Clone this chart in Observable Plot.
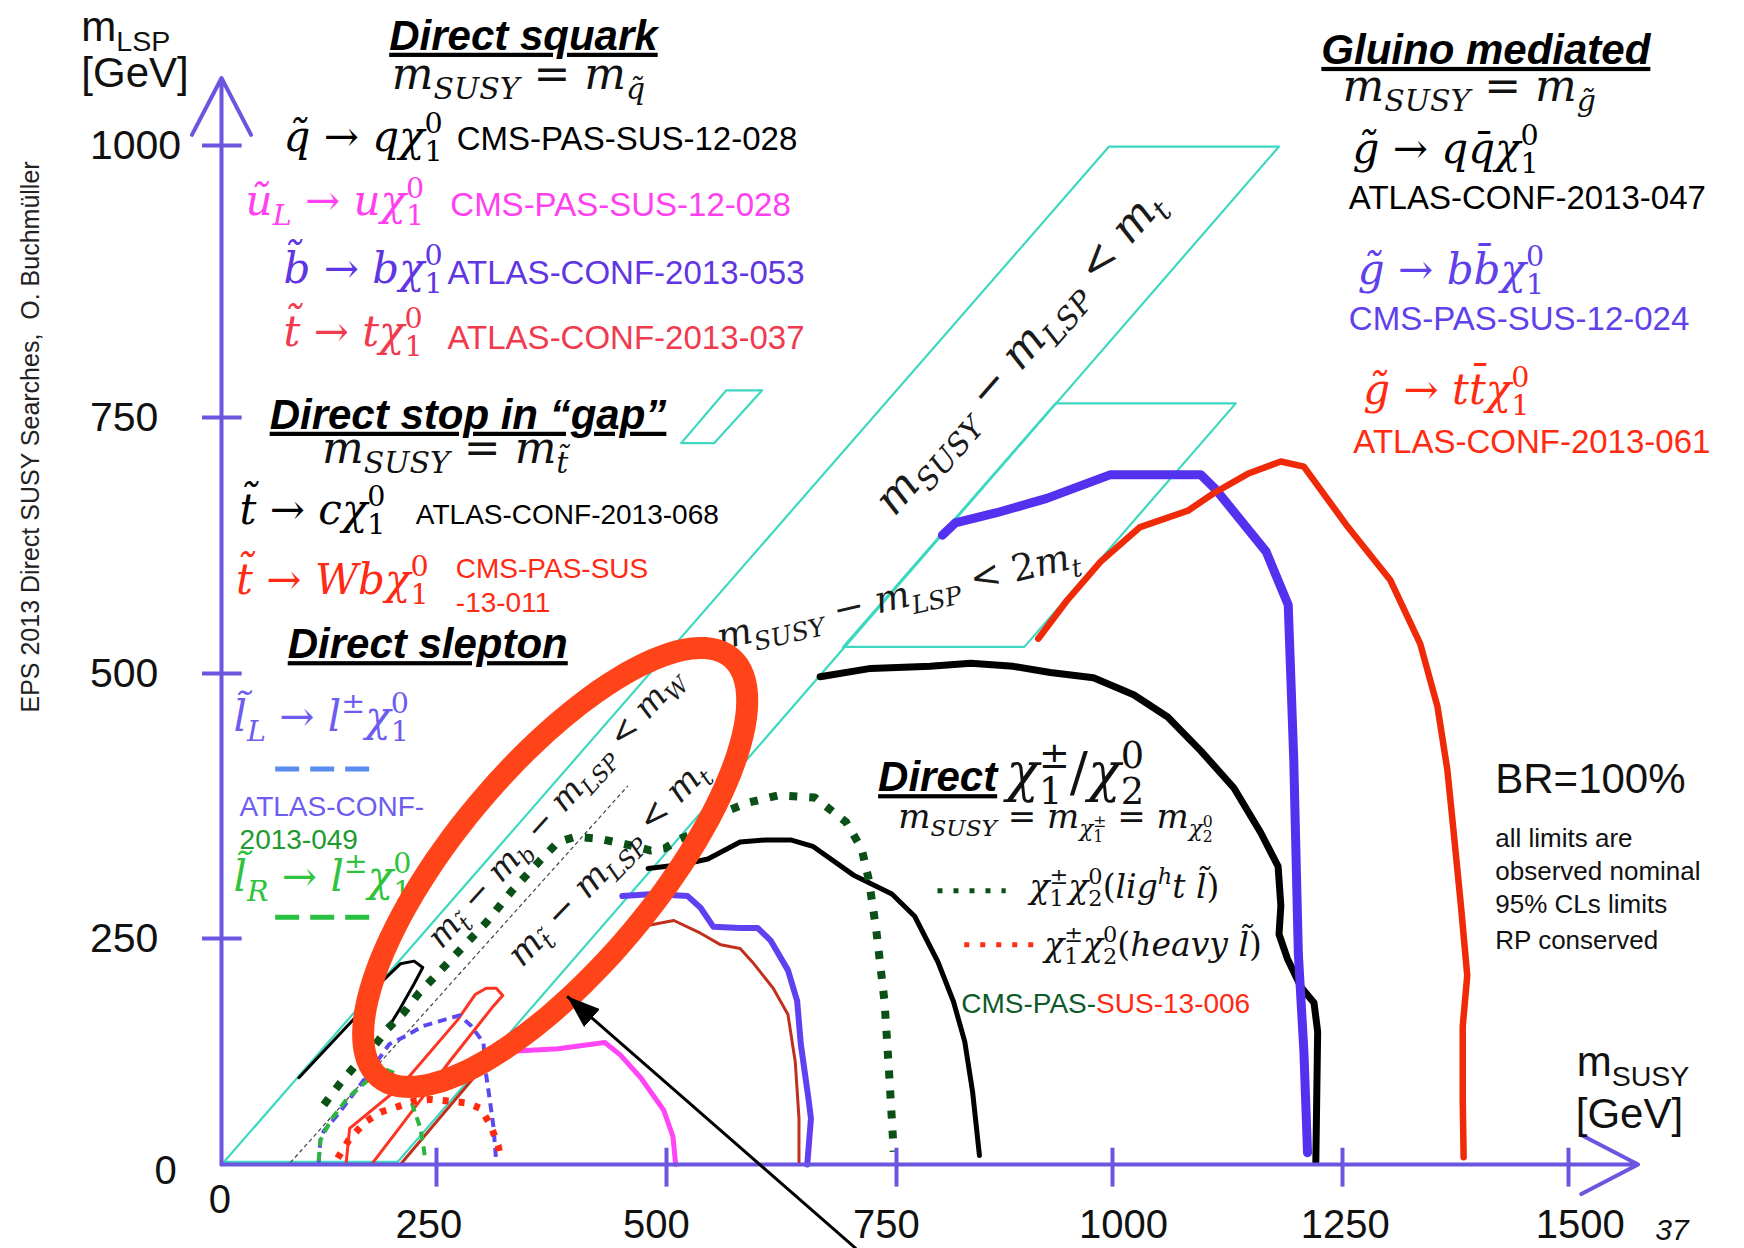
<!DOCTYPE html>
<html><head><meta charset="utf-8">
<script src="https://cdn.jsdelivr.net/npm/d3@7"></script>
<script src="https://cdn.jsdelivr.net/npm/@observablehq/plot@0.6"></script>
<style>html,body{margin:0;padding:0;background:#fff;} #chart svg{display:block;} #log{position:absolute;left:300px;top:300px;font-size:22px;color:#c00;white-space:pre-wrap;}</style>
</head><body><div id="chart"></div><div id="log"></div>
<script>
const log = m => document.getElementById("log").textContent += m + "\n";
window.onerror = (m, s, l, c) => log("ERR " + m + " @" + l + ":" + c);
// ================= DATA (x = m_SUSY [GeV], y = m_LSP [GeV]) =================
const xTicks = [250, 500, 750, 1000, 1250, 1500];
const yTicks = [250, 500, 750, 1000];
const xTickLabels = [
  {label: "250", x: 241}, {label: "500", x: 489}, {label: "750", x: 739},
  {label: "1000", x: 1012}, {label: "1250", x: 1253}, {label: "1500", x: 1513}
];
const zeroLabels = [{label: "0", x: -2, y: -39}, {label: "0", x: -65, y: -7}];

// Gluino mediated
const gluinoBB = [[803,635],[818,647],[866,657],[924,671],[997,694],[1096,694],[1112,680],[1167,619],[1191,567],[1197,419],[1202,233],[1208,126],[1212,13]];
const gluinoTT = [[914,534],[948,572],[986,609],[1030,643],[1082,659],[1110,676],[1147,695],[1183,707],[1208,702],[1256,643],[1303,591],[1336,529],[1355,469],[1366,409],[1373,350],[1381,281],[1388,209],[1383,153],[1383,72],[1384,8]];
// Direct squark
const squarkQQ = [[667,497],[722,505],[789,507],[836,510],[885,507],[928,501],[978,496],[1023,480],[1060,459],[1096,427],[1132,392],[1161,350],[1180,318],[1183,281],[1181,254],[1190,228],[1205,196],[1219,179],[1223,147],[1221,3]];
const sbottom = [[452,290],[486,292],[523,290],[537,279],[551,261],[580,260],[599,260],[613,248],[632,215],[642,181],[646,133],[654,75],[657,51],[653,0]];
const stopTLow = [[208,0],[298,105]];
const stopT = [[462,262],[472,261],[508,267],[537,255],[559,243],[580,239],[595,222],[616,195],[632,166],[640,113],[644,51],[644,0]];
const squarkUL = [[327,125],[382,128],[433,135],[450,121],[472,96],[497,60],[507,31],[510,0]];
// Direct stop in the gap
const stopCharm = [[90,96],[155,162],[184,200],[208,222],[224,225],[234,218],[224,200],[208,173],[195,153]];
const stopWb = [[145,2],[149,40],[208,86],[273,160],[292,188],[304,195],[315,195],[322,187],[310,173],[265,115],[208,42],[176,2]];
// Direct slepton
const sleptonL = [[113,2],[115,27],[119,37],[135,55],[166,94],[195,133],[214,142],[234,153],[275,165],[287,154],[301,135],[304,99],[308,71],[312,41],[315,2]];
const sleptonR = [[113,4],[115,27],[127,49],[147,74],[170,93],[188,106],[202,101],[216,85],[223,63],[231,41],[235,19],[237,4]];
// Direct chargino / neutralino
const ewkWZ = [[480,316],[519,320],[545,325],[580,341],[608,343],[635,343],[659,337],[703,310],[745,292],[771,271],[798,224],[816,180],[829,136],[838,81],[846,10]];
const ewkLight = [[119,66],[138,90],[156,110],[176,129],[193,150],[212,168],[229,189],[247,207],[265,226],[304,265],[332,295],[362,323],[382,341],[401,346],[428,344],[460,338],[483,333],[498,335],[515,344],[537,352],[553,366],[588,378],[621,385],[661,383],[695,360],[712,335],[720,305],[728,258],[737,180],[742,101],[747,14]];
const ewkHeavy = [[135,7],[148,27],[167,47],[185,58],[205,64],[223,70],[243,72],[265,70],[284,68],[298,62],[309,43],[317,21],[320,7]];

// Kinematic bands and the m_W + m_b line
const bandMt = [[3,3],[996,999],[1181,999],[205,3],[3,3]];
const band2Mt = [[692,526],[934,763],[1134,763],[898,526],[692,526]];
const gapSymbol = [[516,725],[565,775],[604,775],[552,725],[516,725]];
const lineMW = [[80,2],[458,394]];

// Axis extents, legend samples, annotation anchors
const axisLines = [{x1: 0, y1: 0, x2: 0, y2: 1062}, {x1: 0, y1: 0, x2: 1577, y2: 0}];
const legendDashes = [{id: "slepL", x1: 63, x2: 174, y: 410}, {id: "slepR", x1: 63, x2: 174, y: 270}];
const legendDots = [{id: "light", x1: 798, x2: 877, y: 295}, {id: "heavy", x1: 829, x2: 909, y: 243}];
const pointer = [{x1: 706, y1: -93, x2: 392, y2: 186}];
const highlight = [{x: 379, y: 317}];

const sectionTitles = [
  {text: "Direct squark", x: 195, y: 1088},
  {text: "Direct stop in \u201cgap\u201d", x: 56, y: 739},
  {text: "Direct slepton", x: 77, y: 515},
  {text: "Gluino mediated", x: 1227, y: 1075},
  {text: "Direct", x: 730, y: 389}
];
const massRelations = [
  {tex: "m_{SUSY} = m_{q\u0303}", x: 198, y: 1052},
  {tex: "m_{SUSY} = m_{t\u0303}", x: 117, y: 706},
  {tex: "m_{SUSY} = m_{g\u0303}", x: 1250, y: 1041}
];
const decayLabels = [
  {id: "squark",  tex: "q\u0303 \u2192 q\u03c7^{0}_{1}", x: 72, y: 995},
  {id: "sup",     tex: "u\u0303_{L} \u2192 u\u03c7^{0}_{1}", x: 28, y: 936},
  {id: "sbottom", tex: "b\u0303 \u2192 b\u03c7^{0}_{1}", x: 72, y: 874},
  {id: "stop",    tex: "t\u0303 \u2192 t\u03c7^{0}_{1}", x: 72, y: 816},
  {id: "stopc",   tex: "t\u0303 \u2192 c\u03c7^{0}_{1}", x: 21, y: 646},
  {id: "stopWb",  tex: "t\u0303 \u2192 Wb\u03c7^{0}_{1}", x: 17, y: 578},
  {id: "slepL",   tex: "l\u0303_{L} \u2192 l^{\u00b1}\u03c7^{0}_{1}", x: 14, y: 446},
  {id: "slepR",   tex: "l\u0303_{R} \u2192 l^{\u00b1}\u03c7^{0}_{1}", x: 14, y: 295},
  {id: "gqq",     tex: "g\u0303 \u2192 qq\u0304\u03c7^{0}_{1}", x: 1261, y: 984},
  {id: "gbb",     tex: "g\u0303 \u2192 bb\u0304\u03c7^{0}_{1}", x: 1267, y: 873},
  {id: "gtt",     tex: "g\u0303 \u2192 tt\u0304\u03c7^{0}_{1}", x: 1273, y: 762}
];
const refsLarge = [
  {id: "squark",  text: "CMS-PAS-SUS-12-028", x: 272, y: 996},
  {id: "sup",     text: "CMS-PAS-SUS-12-028", x: 265, y: 935},
  {id: "sbottom", text: "ATLAS-CONF-2013-053", x: 262, y: 873},
  {id: "stop",    text: "ATLAS-CONF-2013-037", x: 262, y: 813},
  {id: "gqq",     text: "ATLAS-CONF-2013-047", x: 1257, y: 942},
  {id: "gbb",     text: "CMS-PAS-SUS-12-024", x: 1257, y: 830},
  {id: "gtt",     text: "ATLAS-CONF-2013-061", x: 1262, y: 715}
];
const refsSmall = [
  {id: "stopc",   text: "ATLAS-CONF-2013-068", x: 226, y: 646},
  {id: "stopWb",  text: "CMS-PAS-SUS", x: 271, y: 593},
  {id: "stopWb",  text: "-13-011", x: 271, y: 560},
  {id: "slepL",   text: "ATLAS-CONF-", x: 21, y: 366},
  {id: "slepR2",  text: "2013-049", x: 21, y: 334},
  {id: "ewkR",    text: "SUS-13-006", x: 981, y: 168}
];
const refsEnd = [{id: "ewkG", text: "CMS-PAS-", x: 981, y: 168}];
const ewkTitle = [{tex: "\u03c7^{\u00b1}_{1}/\u03c7^{0}_{2}", x: 877, y: 389}];
const ewkRelation = [{tex: "m_{SUSY} = m_{\u03c7^{\u00b1}_{1}} = m_{\u03c7^{0}_{2}}", x: 752, y: 354}];
const ewkLegend = [
  {tex: "\u03c7^{\u00b1}_{1}\u03c7^{0}_{2}(lig^{h}t l\u0303)", x: 904, y: 288},
  {tex: "\u03c7^{\u00b1}_{1}\u03c7^{0}_{2}(heavy l\u0303)", x: 921, y: 231}
];
const bandLabels = [
  {tex: "m_{SUSY} \u2212 m_{LSP} < m_{t}", x: 892, y: 810, angle: -49, size: 44},
  {tex: "m_{SUSY} \u2212 m_{LSP} < 2m_{t}", x: 752, y: 575, angle: -13, size: 37},
  {tex: "m_{t\u0303} \u2212 m_{b} \u2212 m_{LSP} < m_{W}", x: 379, y: 373, angle: -48, size: 33},
  {tex: "m_{t\u0303} \u2212 m_{LSP} < m_{t}", x: 436, y: 321, angle: -46, size: 35}
];
const notes = [
  {text: "all limits are", y: 336}, {text: "observed nominal", y: 305},
  {text: "95% CLs limits", y: 274}, {text: "RP conserved", y: 238}
];
const brLabel = [{text: "BR=100%", x: 1419, y: 387}];
const axisTitles = [
  {tex: "m_{LSP}", x: -163, y: 1096}, {tex: "[GeV]", x: -163, y: 1054},
  {tex: "m_{SUSY}", x: 1509, y: 98}, {tex: "[GeV]", x: 1508, y: 40}
];
const pageNumber = [{text: "37", x: 1596, y: -84}];
const credit = [{text: "EPS 2013 Direct SUSY Searches,  O. Buchm\u00fcller", x: -221, y: 731}];

// ================= STYLES =================
const AXIS = "#6a56e0", BAND = "#3ed8c0";
const decayColor = {
  squark: "#000", sup: "#ff40f0", sbottom: "#5f36e2", stop: "#f03a4e", stopc: "#000",
  stopWb: "#ff2a14", slepL: "#6c5cf0", slepR: "#2fc23c", slepR2: "#1e9a2e",
  gqq: "#000", gbb: "#6040ea", gtt: "#ff2a10", ewkG: "#0e5a2a", ewkR: "#ff2a14"
};
const SANS = "Liberation Sans, Arial, Helvetica, sans-serif";
const SERIF = "DejaVu Serif, serif";

// the slide's hand-drawn axes are not evenly spaced: warp each axis piecewise between its ticks
const warpX = d3.scaleLinear().domain([0, 250, 500, 750, 1000, 1250, 1500]).range([0, 215, 445, 675, 891, 1121, 1347]);
const warpY = d3.scaleLinear().domain([0, 250, 500, 750, 1000]).range([0, 226, 491, 747, 1019]);

const P = d => d[0], Q = d => d[1];
const curve = (data, stroke, strokeWidth, extra = {}) =>
  Plot.line(data, {x: P, y: Q, stroke, strokeWidth, strokeLinejoin: "round", strokeLinecap: "round", ...extra});

let plot;
try {
plot = Plot.plot({
  width: 1744, height: 1248, margin: 0,
  x: {type: "linear", transform: warpX, domain: [0, 1347], range: [221, 1568], axis: null},
  y: {type: "linear", transform: warpY, domain: [0, 1019], range: [1164, 145], axis: null},
  color: {type: "identity"},
  marks: [
    curve(bandMt, BAND, 2.2),
    curve(band2Mt, BAND, 2.2),
    curve(gapSymbol, BAND, 2.2),
    curve(lineMW, "#444", 1.2, {strokeDasharray: "4,3", strokeLinecap: "butt"}),
    curve(squarkUL, "#ff45f5", 5),
    curve(stopTLow, "#c0301c", 3),
    curve(stopT, "#c0301c", 3),
    curve(sbottom, "#6040f0", 6),
    curve(ewkWZ, "#000", 5),
    curve(squarkQQ, "#000", 7),
    curve(gluinoBB, "#5331ee", 9),
    curve(gluinoTT, "#ee2a08", 6.5),
    curve(stopCharm, "#000", 3),
    curve(stopWb, "#ff3322", 3),
    curve(sleptonL, "#5a4af0", 4, {strokeDasharray: "9,6", strokeLinecap: "butt"}),
    curve(sleptonR, "#2db540", 4, {strokeDasharray: "9,6", strokeLinecap: "butt"}),
    curve(ewkHeavy, "#ff2a10", 7, {strokeDasharray: "6,10", strokeLinecap: "butt"}),
    curve(ewkLight, "#0b5016", 8, {strokeDasharray: "8,12", strokeLinecap: "butt"}),
    Plot.ruleY(legendDashes, {y: "y", x1: "x1", x2: "x2", stroke: d => d.id === "slepL" ? "#5a8cf0" : "#28c040", strokeWidth: 5, strokeDasharray: "24,11"}),
    Plot.ruleY(legendDots, {y: "y", x1: "x1", x2: "x2", stroke: d => d.id === "light" ? "#0b5016" : "#ff2a10", strokeWidth: 5, strokeDasharray: "5,11"}),
    Plot.arrow(axisLines, {x1: "x1", y1: "y1", x2: "x2", y2: "y2", stroke: AXIS, strokeWidth: 4, headLength: 24, headAngle: 55}),
    Plot.ruleY(yTicks, {y: d => d, x1: -22, x2: 24, stroke: AXIS, strokeWidth: 4}),
    Plot.ruleX(xTicks, {x: d => d, y1: -25, y2: 18, stroke: AXIS, strokeWidth: 4}),
    Plot.text(yTicks, {x: -153, y: d => d, text: d => String(d), textAnchor: "start", lineAnchor: "middle", fontSize: 41, fontFamily: SANS, fill: "#111"}),
    Plot.text(xTickLabels, {x: "x", y: -67, text: "label", textAnchor: "middle", lineAnchor: "middle", fontSize: 40, fontFamily: SANS, fill: "#111"}),
    Plot.text(zeroLabels, {x: "x", y: "y", text: "label", textAnchor: "middle", lineAnchor: "middle", fontSize: 40, fontFamily: SANS, fill: "#111"}),
    Plot.text(axisTitles, {x: "x", y: "y", text: "tex", textAnchor: "start", lineAnchor: "bottom", fontSize: 42, fontFamily: SANS, fill: "#111", className: "rich-sans"}),
    Plot.text(pageNumber, {x: "x", y: "y", text: "text", textAnchor: "start", lineAnchor: "bottom", fontSize: 30, fontStyle: "italic", fontFamily: SANS, fill: "#111"}),
    Plot.text(credit, {x: "x", y: "y", text: "text", rotate: -90, textAnchor: "middle", lineAnchor: "middle", fontSize: 25, fontFamily: SANS, fill: "#222"}),
    Plot.text(sectionTitles, {x: "x", y: "y", text: "text", textAnchor: "start", lineAnchor: "bottom", fontSize: 42, fontWeight: "bold", fontStyle: "italic", fontFamily: SANS, fill: "#000", className: "uline"}),
    Plot.text(massRelations, {x: "x", y: "y", text: "tex", textAnchor: "start", lineAnchor: "bottom", fontSize: 44, fontFamily: SERIF, fill: "#111", className: "rich-math"}),
    Plot.text(decayLabels, {x: "x", y: "y", text: "tex", textAnchor: "start", lineAnchor: "bottom", fontSize: 42, fontFamily: SERIF, fill: d => decayColor[d.id], className: "rich-math"}),
    Plot.text(refsLarge, {x: "x", y: "y", text: "text", textAnchor: "start", lineAnchor: "bottom", fontSize: 33, fontFamily: SANS, fill: d => decayColor[d.id]}),
    Plot.text(refsSmall, {x: "x", y: "y", text: "text", textAnchor: "start", lineAnchor: "bottom", fontSize: 28, fontFamily: SANS, fill: d => decayColor[d.id]}),
    Plot.text(refsEnd, {x: "x", y: "y", text: "text", textAnchor: "end", lineAnchor: "bottom", fontSize: 28, fontFamily: SANS, fill: d => decayColor[d.id]}),
    Plot.text(ewkTitle, {x: "x", y: "y", text: "tex", textAnchor: "start", lineAnchor: "bottom", fontSize: 54, fontFamily: SERIF, fill: "#111", className: "rich-math"}),
    Plot.text(ewkRelation, {x: "x", y: "y", text: "tex", textAnchor: "start", lineAnchor: "bottom", fontSize: 34, fontFamily: SERIF, fill: "#111", className: "rich-math"}),
    Plot.text(ewkLegend, {x: "x", y: "y", text: "tex", textAnchor: "start", lineAnchor: "bottom", fontSize: 33, fontFamily: SERIF, fill: "#111", className: "rich-math"}),
    Plot.text(bandLabels, {x: "x", y: "y", text: "tex", rotate: "angle", fontSize: "size", textAnchor: "middle", lineAnchor: "middle", fontFamily: SERIF, fill: "#1a1a1a", className: "rich-math"}),
    Plot.text(brLabel, {x: "x", y: "y", text: "text", textAnchor: "start", lineAnchor: "bottom", fontSize: 42, fontFamily: SANS, fill: "#111"}),
    Plot.text(notes, {x: 1419, y: "y", text: "text", textAnchor: "start", lineAnchor: "bottom", fontSize: 26, fontFamily: SANS, fill: "#111"}),
    Plot.dot(highlight, {x: "x", y: "y", r: 1, fill: "none", stroke: "#ff4419", strokeWidth: 22, symbol: {
      draw(ctx) {
        const a = 274, b = 100, th = -50 * Math.PI / 180, n = 120;
        for (let i = 0; i <= n; i++) {
          const t = 2 * Math.PI * i / n, ex = a * Math.cos(t), ey = b * Math.sin(t);
          const px = ex * Math.cos(th) - ey * Math.sin(th), py = ex * Math.sin(th) + ey * Math.cos(th);
          i ? ctx.lineTo(px, py) : ctx.moveTo(px, py);
        }
        ctx.closePath();
      }
    }}),
    Plot.link(pointer, {x1: "x1", y1: "y1", x2: "x2", y2: "y2", stroke: "#000", strokeWidth: 3, className: "pointer"})
  ]
});
document.getElementById("chart").append(plot);
} catch (e) { log("plot error: " + e.message); }

// ================= post-processing: sub/superscripts, underline, arrowhead =================
const NS = "http://www.w3.org/2000/svg";
function parseTex(s, size, shift) {
  const out = []; let buf = "", i = 0;
  const flush = () => { if (buf) { out.push({text: buf, size, shift}); buf = ""; } };
  while (i < s.length) {
    const c = s[i];
    if ((c === "^" || c === "_") && s[i + 1] === "{") {
      flush();
      let depth = 0, j = i + 1;
      for (; j < s.length; j++) { if (s[j] === "{") depth++; else if (s[j] === "}") { depth--; if (depth === 0) break; } }
      const ss = size * 0.68;
      const sh = c === "^" ? shift - size * 0.42 : shift + size * 0.24;
      const grp = {group: parseTex(s.slice(i + 2, j), ss, sh)};
      const prev = out[out.length - 1];
      if (prev && prev.group && prev.stackOn === undefined) grp.stackOn = out.length - 1;
      out.push(grp);
      i = j + 1;
    } else { buf += c; i++; }
  }
  flush();
  return out;
}
function splitStyle(s) {
  const segs = []; let cur = null;
  for (const ch of s) {
    let it;
    if (/[\u0300-\u036f]/.test(ch)) it = cur ? cur.italic : true;
    else it = /[A-Za-z\u0370-\u03ff]/.test(ch);
    if (cur && cur.italic === it) cur.text += ch; else { cur = {text: ch, italic: it}; segs.push(cur); }
  }
  return segs;
}
function emitAll(el, items, st, math) {
  let w = 0;
  items.forEach(it => {
    if (it.group) {
      let back = 0;
      if (it.stackOn !== undefined) { back = items[it.stackOn].width; st.dx -= back; w -= back; }
      it.width = emitAll(el, it.group, st, math);
      w += it.width;
      if (it.stackOn !== undefined && back > it.width) { st.dx += back - it.width; w += back - it.width; }
    } else {
      const segs = math ? splitStyle(it.text) : [{text: it.text, italic: null}];
      for (const seg of segs) {
        const t = document.createElementNS(NS, "tspan");
        t.textContent = seg.text;
        t.setAttribute("font-size", it.size.toFixed(2));
        if (seg.italic !== null) t.setAttribute("font-style", seg.italic ? "italic" : "normal");
        const dy = it.shift - st.shift;
        if (Math.abs(dy) > 0.01) t.setAttribute("dy", dy.toFixed(2));
        st.shift = it.shift;
        if (Math.abs(st.dx) > 0.01) { t.setAttribute("dx", st.dx.toFixed(2)); st.dx = 0; }
        el.appendChild(t);
        w += t.getComputedTextLength();
      }
    }
  });
  return w;
}
function richify(sel, math) {
  plot.querySelectorAll(sel + " text").forEach(el => {
    const src = el.textContent;
    const fs = parseFloat(getComputedStyle(el).fontSize);
    el.textContent = "";
    el.style.whiteSpace = "pre";
    emitAll(el, parseTex(src, fs, 0), {shift: 0, dx: 0}, math);
  });
}
try {
  richify("g.rich-math", true);
  richify("g.rich-sans", false);
  plot.querySelectorAll("g.uline text").forEach(t => t.setAttribute("text-decoration", "underline"));
  const defs = document.createElementNS(NS, "defs");
  defs.innerHTML = '<marker id="solidhead" viewBox="0 0 10 10" refX="10" refY="5" markerWidth="11" markerHeight="8" markerUnits="strokeWidth" orient="auto" preserveAspectRatio="none"><path d="M0,0L10,5L0,10z" fill="#000"/></marker>';
  plot.insertBefore(defs, plot.firstChild);
  plot.querySelectorAll("g.pointer path").forEach(p => p.setAttribute("marker-end", "url(#solidhead)"));
} catch (e) { log("post error: " + e.message); }
</script></body></html>
